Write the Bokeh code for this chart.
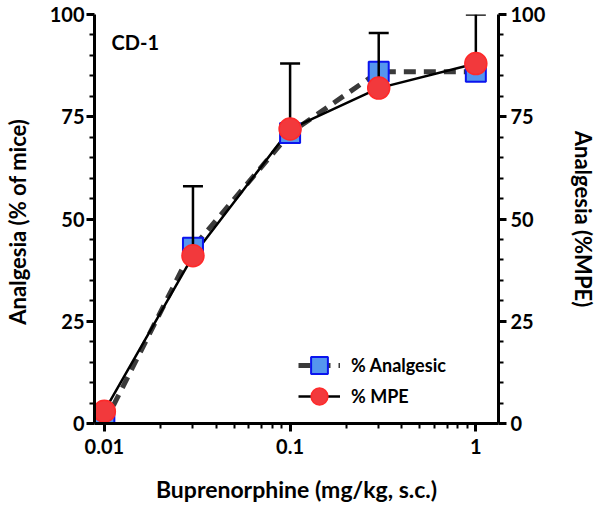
from bokeh.plotting import figure
from bokeh.models import (LinearAxis, Range1d, FixedTicker, Legend, LegendItem,
                          Label, ColumnDataSource)
from bokeh.embed import file_html
from bokeh.resources import INLINE

# ---- data ----
dose = [0.01, 0.03, 0.1, 0.3, 1.0]
pct_analgesic = [0, 43, 71, 86, 86]
pct_mpe = [3, 41, 72, 82, 88]
mpe_err_up = [0, 17, 16, 13.5, 12]
x_major_ticks = [0.01, 0.1, 1]
x_minor_ticks = [0.02, 0.03, 0.04, 0.05, 0.06, 0.07, 0.08, 0.09,
                 0.2, 0.3, 0.4, 0.5, 0.6, 0.7, 0.8, 0.9]
y_major_ticks = [0, 25, 50, 75, 100]
y_minor_ticks = [5, 10, 15, 20, 30, 35, 40, 45, 55, 60, 65, 70, 80, 85, 90, 95]

FONT = "Lato"
TICK_SIZE = "20px"

p = figure(width=600, height=510, x_axis_type="log",
           x_range=Range1d(10 ** -2.053, 10 ** 0.122), y_range=Range1d(0, 100),
           output_backend="svg", toolbar_location=None,
           min_border_left=93, min_border_right=97, min_border_top=14,
           min_border_bottom=87, y_axis_location=None)
p.outline_line_color = None
p.xgrid.visible = False
p.ygrid.visible = False
p.background_fill_color = "white"
p.border_fill_color = "white"

def style_axis(ax, title_size):
    ax.axis_line_width = 3
    ax.axis_line_color = "black"
    ax.major_tick_line_width = 3
    ax.minor_tick_line_width = 2
    ax.major_tick_in = 0
    ax.minor_tick_in = 0
    ax.major_label_text_font = FONT
    ax.major_label_text_font_style = "bold"
    ax.major_label_text_font_size = TICK_SIZE
    ax.major_label_text_color = "black"
    ax.axis_label_text_font = FONT
    ax.axis_label_text_font_style = "bold"
    ax.axis_label_text_font_size = title_size
    ax.axis_label_text_color = "black"

xa = p.xaxis[0]
xa.ticker = FixedTicker(ticks=x_major_ticks, minor_ticks=x_minor_ticks)
xa.major_label_overrides = {0.01: "0.01", 0.1: "0.1", 1: "1"}
style_axis(xa, "23px")
xa.major_tick_out = 8
xa.minor_tick_out = 5
xa.major_label_standoff = 7
xa.axis_label = "Buprenorphine (mg/kg, s.c.)"
xa.axis_label_standoff = 18

yl = LinearAxis(ticker=FixedTicker(ticks=y_major_ticks, minor_ticks=y_minor_ticks),
                axis_label="Analgesia  (% of mice)")
style_axis(yl, "22px")
yl.major_tick_out = 8
yl.minor_tick_out = 5
yl.major_label_standoff = 2
yl.axis_label_standoff = 16
p.add_layout(yl, "left")

yr = LinearAxis(ticker=FixedTicker(ticks=y_major_ticks, minor_ticks=y_minor_ticks),
                axis_label="Analgesia (%MPE)")
style_axis(yr, "22px")
yr.major_tick_out = 8
yr.minor_tick_out = 5
yr.major_label_standoff = 4
yr.axis_label_standoff = 22
p.add_layout(yr, "right")

src = ColumnDataSource(dict(x=dose, a=pct_analgesic, m=pct_mpe,
                            top=[m + e for m, e in zip(pct_mpe, mpe_err_up)]))

dash_line = p.line("x", "a", source=src, line_color="#3a3a3a", line_width=5,
                   line_dash="12 8")
solid_line = p.line("x", "m", source=src, line_color="black", line_width=2.5)
sq = p.scatter("x", "a", source=src, marker="square", size=20,
               fill_color="#5596ee", line_color="#0a14ee", line_width=2)
p.segment("x", "m", "x", "top", source=src, line_color="black", line_width=2.5)
p.scatter("x", "top", source=src, marker="dash", size=20, line_color="black",
          line_width=2.5)
ci = p.scatter("x", "m", source=src, marker="circle", size=22,
               fill_color="#f2393c", line_color="#ff2a2a", line_width=1.5)

def make_legend(label, renderers, loc):
    return Legend(items=[LegendItem(label=label, renderers=renderers)],
                  location=loc, glyph_width=42, glyph_height=42,
                  label_text_font=FONT, label_text_font_style="bold",
                  label_text_font_size="18px", label_text_color="black",
                  label_standoff=11, spacing=0,
                  background_fill_alpha=0, border_line_color=None, padding=0,
                  margin=0)

p.add_layout(make_legend("% Analgesic", [dash_line, sq], (204, 37)), "center")
p.add_layout(make_legend("% MPE", [solid_line, ci], (204, 6)), "center")

p.add_layout(Label(x=17, y=382, x_units="screen", y_units="screen",
                   text="CD-1", text_font=FONT, text_font_style="bold",
                   text_font_size="20px", text_baseline="middle",
                   text_color="black"))

open("out.html", "w").write(file_html(p, INLINE))
